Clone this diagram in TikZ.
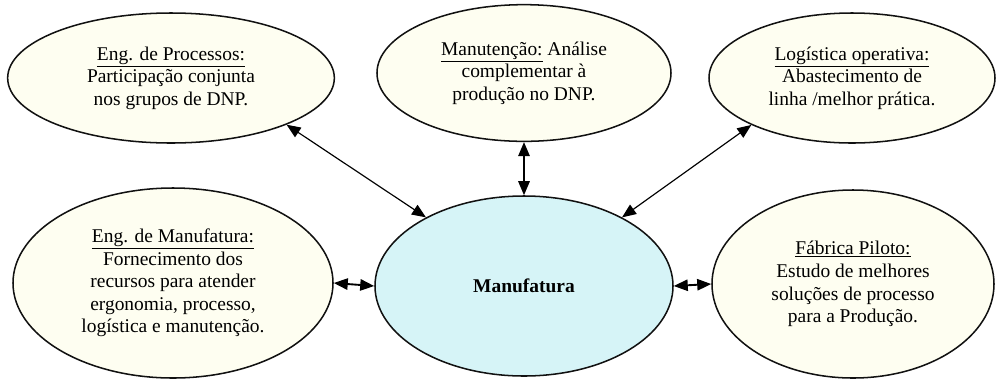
\documentclass[tikz,border=0pt]{standalone}
\usepackage{fontspec}
\setmainfont{Liberation Serif}
\usetikzlibrary{arrows.meta, shapes.geometric}
\definecolor{partFill}{HTML}{FEFEF1}
\definecolor{partLine}{HTML}{111111}
\definecolor{coreFill}{HTML}{D6F4F7}

\begin{document}
\begin{tikzpicture}[
  x=0.03cm, y=-0.03cm,
  font=\fontsize{16.6}{19.3}\selectfont,
  part/.style={ellipse, draw=partLine, fill=partFill, line width=1.3pt,
    inner sep=0pt, align=center},
  core/.style={part, fill=coreFill, font=\fontsize{16.6}{19.3}\selectfont\bfseries},
  link/.style={{Triangle[length=4.2mm,width=3.4mm]}-{Triangle[length=4.2mm,width=3.4mm]},
    line width=1pt},
  shortlink/.style={link, line width=1.6pt}
]

\useasboundingbox (0,0) rectangle (996,378);

% =========================================================
% CENTRE
% =========================================================

\node[core, minimum width=8.94cm, minimum height=5.40cm] (manufatura) at (524,286)
{Manufatura};

% =========================================================
% TOP ROW
% =========================================================

\node[part, minimum width=9.80cm, minimum height=3.90cm] (processos) at (171,78)
{\underline{Eng. de Processos:}\\Participação conjunta\\nos grupos de DNP.};

\node[part, minimum width=8.82cm, minimum height=4.10cm] (manutencao) at (524,73)
{\underline{Manutenção:} Análise\\complementar à\\produção no DNP.};

\node[part, minimum width=8.58cm, minimum height=3.90cm] (logistica) at (852,78)
{\underline{Logística operativa:}\\Abastecimento de\\linha /melhor prática.};

% =========================================================
% BOTTOM ROW
% =========================================================

\node[part, minimum width=9.60cm, minimum height=5.70cm] (engManufatura) at (173,283)
{\underline{Eng. de Manufatura:}\\Fornecimento dos\\recursos para atender\\ergonomia, processo,\\logística e manutenção.};

\node[part, minimum width=8.46cm, minimum height=5.64cm] (fabrica) at (853,284)
{\underline{Fábrica Piloto:}\\Estudo de melhores\\soluções de processo\\para a Produção.};

% =========================================================
% LINKS
% =========================================================

\draw[link] (processos.-22) -- (manufatura.145);
\draw[shortlink] (manutencao.south) -- (manufatura.north);
\draw[link] (logistica.-155) -- (manufatura.35);
\draw[shortlink] (engManufatura.east) -- (manufatura.west);
\draw[shortlink] (manufatura.east) -- (fabrica.west);

\end{tikzpicture}
\end{document}
